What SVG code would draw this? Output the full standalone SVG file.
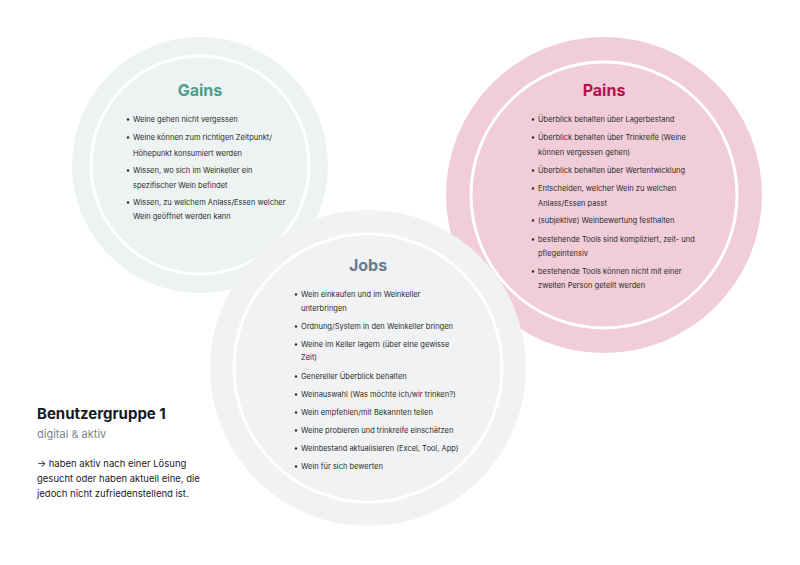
<svg xmlns="http://www.w3.org/2000/svg" width="800" height="565" viewBox="0 0 800 565">
  <style>
    .item { font-family: Inter, "Liberation Sans", sans-serif; font-size: 7.5px; fill: #2b2b2b; }
    .title { font-family: Inter, "Liberation Sans", sans-serif; font-size: 16px; font-weight: 700; text-anchor: middle; }
    .ring { fill: none; stroke: #ffffff; stroke-width: 3; }
    .dot { fill: #2b2b2b; }
  </style>
  <rect width="800" height="565" fill="#ffffff"/>

  <!-- Gains -->
  <g id="gains">
    <circle cx="200" cy="165" r="128" fill="#ecf3f2"/>
    <circle class="ring" cx="200" cy="165" r="109"/>
    <text class="title" x="200" y="96" fill="#4f9e8a">Gains</text>
    <g>
      <circle class="dot" cx="128" cy="119.5" r="1.2"/>
      <text class="item" x="133" y="122">Weine gehen nicht vergessen</text>
      <circle class="dot" cx="128" cy="137.5" r="1.2"/>
      <text class="item" x="133" y="140">Weine können zum richtigen Zeitpunkt/</text>
      <text class="item" x="133" y="156">Höhepunkt konsumiert werden</text>
      <circle class="dot" cx="128" cy="170.5" r="1.2"/>
      <text class="item" x="133" y="173">Wissen, wo sich im Weinkeller ein</text>
      <text class="item" x="133" y="188">spezifischer Wein befindet</text>
      <circle class="dot" cx="128" cy="202.5" r="1.2"/>
      <text class="item" x="133" y="205">Wissen, zu welchem Anlass/Essen welcher</text>
      <text class="item" x="133" y="219">Wein geöffnet werden kann</text>
    </g>
  </g>

  <!-- Pains -->
  <g id="pains">
    <circle cx="604" cy="195" r="158" fill="#f0cdd8"/>
    <circle class="ring" cx="604" cy="195" r="133"/>
    <text class="title" x="604" y="96" fill="#b5124a">Pains</text>
    <g>
      <circle class="dot" cx="533" cy="119.5" r="1.2"/>
      <text class="item" x="538" y="122">Überblick behalten über Lagerbestand</text>
      <circle class="dot" cx="533" cy="137.5" r="1.2"/>
      <text class="item" x="538" y="140">Überblick behalten über Trinkreife (Weine</text>
      <text class="item" x="538" y="155">können vergessen gehen)</text>
      <circle class="dot" cx="533" cy="170.5" r="1.2"/>
      <text class="item" x="538" y="173">Überblick behalten über Wertentwicklung</text>
      <circle class="dot" cx="533" cy="188.5" r="1.2"/>
      <text class="item" x="538" y="191">Entscheiden, welcher Wein zu welchen</text>
      <text class="item" x="538" y="206">Anlass/Essen passt</text>
      <circle class="dot" cx="533" cy="220.5" r="1.2"/>
      <text class="item" x="538" y="223">(subjektive) Weinbewertung festhalten</text>
      <circle class="dot" cx="533" cy="239.5" r="1.2"/>
      <text class="item" x="538" y="242">bestehende Tools sind kompliziert, zeit- und</text>
      <text class="item" x="538" y="256">pflegeintensiv</text>
      <circle class="dot" cx="533" cy="271.5" r="1.2"/>
      <text class="item" x="538" y="274">bestehende Tools können nicht mit einer</text>
      <text class="item" x="538" y="288">zweiten Person geteilt werden</text>
    </g>
  </g>

  <!-- Jobs -->
  <g id="jobs">
    <circle cx="368" cy="368" r="158" fill="#f1f2f4"/>
    <circle class="ring" cx="368" cy="368" r="134"/>
    <text class="title" x="368" y="271" fill="#6b7a8a">Jobs</text>
    <g>
      <circle class="dot" cx="296" cy="294.5" r="1.2"/>
      <text class="item" x="301" y="297">Wein einkaufen und im Weinkeller</text>
      <text class="item" x="301" y="311">unterbringen</text>
      <circle class="dot" cx="296" cy="326.5" r="1.2"/>
      <text class="item" x="301" y="329">Ordnung/System in den Weinkeller bringen</text>
      <circle class="dot" cx="296" cy="344.5" r="1.2"/>
      <text class="item" x="301" y="347">Weine im Keller lagern (über eine gewisse</text>
      <text class="item" x="301" y="360">Zeit)</text>
      <circle class="dot" cx="296" cy="376.5" r="1.2"/>
      <text class="item" x="301" y="379">Genereller Überblick behalten</text>
      <circle class="dot" cx="296" cy="394.5" r="1.2"/>
      <text class="item" x="301" y="397">Weinauswahl (Was möchte ich/wir trinken?)</text>
      <circle class="dot" cx="296" cy="412.5" r="1.2"/>
      <text class="item" x="301" y="415">Wein empfehlen/mit Bekannten teilen</text>
      <circle class="dot" cx="296" cy="430.5" r="1.2"/>
      <text class="item" x="301" y="433">Weine probieren und trinkreife einschätzen</text>
      <circle class="dot" cx="296" cy="448.5" r="1.2"/>
      <text class="item" x="301" y="451">Weinbestand aktualisieren (Excel, Tool, App)</text>
      <circle class="dot" cx="296" cy="466.5" r="1.2"/>
      <text class="item" x="301" y="469">Wein für sich bewerten</text>
    </g>
  </g>

  <!-- User group caption -->
  <g id="benutzergruppe" font-family="Inter, 'Liberation Sans', sans-serif">
    <text x="37" y="419" font-size="15" font-weight="700" fill="#151a24">Benutzergruppe 1</text>
    <text x="37" y="438" font-size="11" fill="#7b8290">digital &amp; aktiv</text>
    <text x="37" y="467" font-size="9.5" fill="#222222">→ haben aktiv nach einer Lösung</text>
    <text x="37" y="482" font-size="9.5" fill="#222222">gesucht oder haben aktuell eine, die</text>
    <text x="37" y="497" font-size="9.5" fill="#222222">jedoch nicht zufriedenstellend ist.</text>
  </g>
</svg>
